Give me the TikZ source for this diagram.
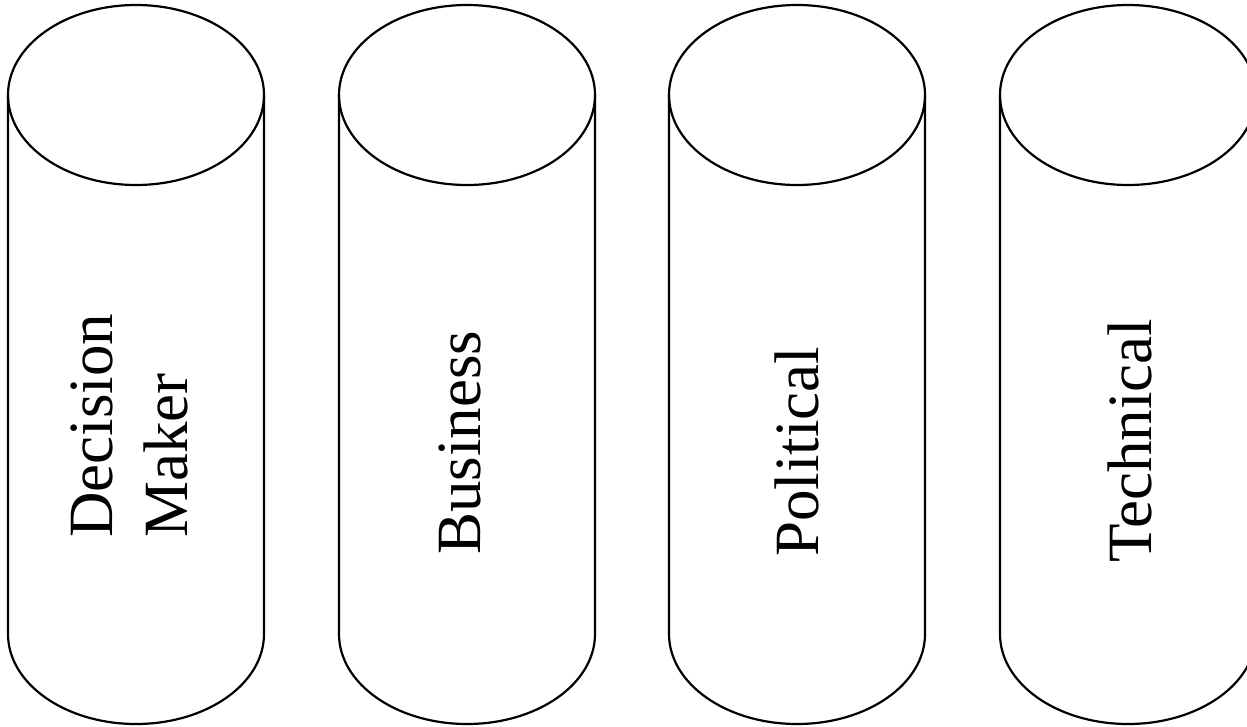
\documentclass[tikz,border=0pt]{standalone}
\usepackage{fontspec}
\setmainfont{Liberation Serif}
\tikzset{
  cyl/.style={draw=black, line width=2.2pt},
  lbl/.style={inner sep=0pt, anchor=base west, rotate=90, font=\fontsize{63}{72}\selectfont}
}
\begin{document}
\begin{tikzpicture}[x=1pt,y=-1pt]
\useasboundingbox (0,0) rectangle (1247,726);
\clip (0,0) rectangle (1247,726);
\foreach \n/\cx in {1/136,2/467,3/797,4/1128}{
  \coordinate (top\n) at (\cx,95);
  \draw[cyl] (top\n) ellipse [x radius=128pt, y radius=90pt];
  \draw[cyl] (\cx-128,95) -- (\cx-128,634)
     arc[start angle=180, end angle=360, x radius=128pt, y radius=90pt]
     -- (\cx+128,95);
}
\node[lbl] (dm1) at (112,538) {Decision};
\node[lbl] (dm2) at (187,538) {Maker};
\node[lbl] (bus) at (480,555) {Business};
\node[lbl] (pol) at (818,557) {Political};
\node[lbl] (tec) at (1151,563) {Technical};
\end{tikzpicture}
\end{document}
